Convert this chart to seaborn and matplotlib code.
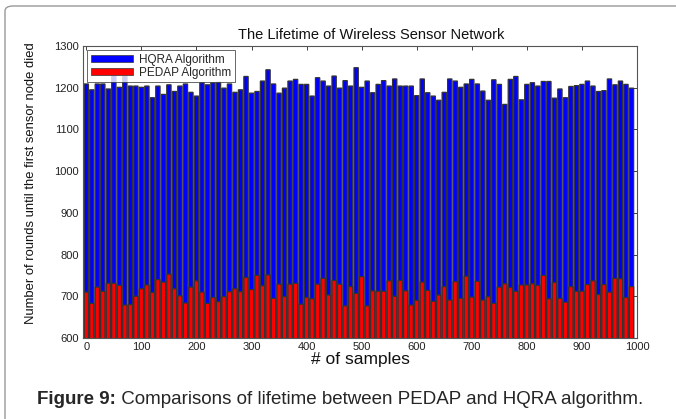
import matplotlib
matplotlib.use("Agg")
import matplotlib.pyplot as plt
from matplotlib.patches import Patch, FancyBboxPatch
import seaborn as sns
import pandas as pd
import numpy as np

# ---- data ----
samples = list(range(0, 1000, 10))
hqra = [1209, 1195, 1209, 1209, 1197, 1232, 1201, 1228, 1204, 1204,
        1201, 1204, 1176, 1204, 1184, 1207, 1191, 1204, 1209, 1189,
        1180, 1212, 1207, 1212, 1213, 1199, 1209, 1189, 1195, 1227,
        1187, 1191, 1216, 1243, 1209, 1187, 1199, 1216, 1220, 1208,
        1208, 1180, 1224, 1216, 1204, 1228, 1199, 1217, 1204, 1248,
        1201, 1216, 1188, 1208, 1217, 1204, 1221, 1204, 1204, 1204,
        1181, 1221, 1188, 1180, 1170, 1189, 1221, 1216, 1201, 1209,
        1220, 1209, 1192, 1170, 1219, 1208, 1160, 1220, 1227, 1171,
        1208, 1212, 1204, 1215, 1215, 1175, 1197, 1176, 1203, 1205,
        1208, 1216, 1204, 1191, 1193, 1221, 1207, 1216, 1208, 1199]
pedap = [710, 683, 722, 712, 731, 731, 726, 679, 680, 700,
         718, 727, 709, 740, 734, 753, 718, 701, 684, 722,
         737, 710, 683, 697, 687, 699, 711, 718, 711, 745,
         716, 750, 725, 751, 695, 729, 699, 729, 731, 681,
         697, 694, 729, 743, 703, 738, 729, 677, 723, 707,
         747, 677, 713, 712, 712, 737, 700, 738, 713, 679,
         690, 734, 714, 688, 703, 723, 691, 735, 695, 748,
         698, 736, 691, 699, 683, 722, 730, 721, 712, 727,
         727, 730, 726, 750, 694, 733, 695, 686, 723, 712,
         712, 728, 737, 704, 728, 710, 743, 742, 697, 723]
series_names = ["HQRA Algorithm", "PEDAP Algorithm"]
title = "The Lifetime of Wireless Sensor Network"
xlabel = "# of samples"
ylabel = "Number of rounds until the first sensor node died"
caption_bold = "Figure 9:"
caption_rest = " Comparisons of lifetime between PEDAP and HQRA algorithm."

df = pd.DataFrame({"samples": samples, "hqra": hqra, "pedap": pedap})

sns.set_theme(style="white")
plt.rcParams["font.family"] = ["Liberation Sans", "DejaVu Sans"]

fig = plt.figure(figsize=(6.76, 4.19), dpi=100)
fig.patch.set_facecolor("white")
ax = fig.add_axes([83/676, 1-338/419, (637-83)/676, (338-46)/419])

blue = "#0000ff"
red = "#ff0000"
edge = "#333333"
for col, c in (("hqra", blue), ("pedap", red)):
    sns.barplot(data=df, x="samples", y=col, native_scale=True, color=c,
                saturation=1, edgecolor=edge, linewidth=0.9, width=0.78,
                errorbar=None, ax=ax, snap=False)

ax.set_xlim(-6, 1000)
ax.set_ylim(600, 1300)
ax.set_xticks(np.arange(0, 1001, 100))
ax.set_yticks(np.arange(600, 1301, 100))
ax.tick_params(direction="in", length=3, width=0.6, top=True, right=True,
               labelsize=8, pad=3, colors="#222222")
for s in ax.spines.values():
    s.set_color("#555555")
    s.set_linewidth(0.8)
ax.set_xlabel(xlabel, fontsize=12.5, labelpad=0, color="#111111")
ax.set_ylabel(ylabel, fontsize=9.4, color="#111111")
ax.yaxis.set_label_coords(-0.083, 0.53)
ax.set_title(title, fontsize=10.5, pad=5, color="#111111", x=0.52)

handles = [Patch(facecolor=blue, edgecolor=edge, linewidth=0.5),
           Patch(facecolor=red, edgecolor=edge, linewidth=0.5)]
leg = ax.legend(handles, series_names, loc="upper left", fontsize=8.5,
                frameon=True, fancybox=False, handlelength=3.6,
                handleheight=0.6, handletextpad=0.5, borderpad=0.3,
                labelspacing=0.1, borderaxespad=0.35)
leg.get_frame().set_edgecolor("#222222")
leg.get_frame().set_linewidth(0.6)

# outer frame
frame = FancyBboxPatch((5/676, -0.05), 1.1, 1-6/419+0.05,
                       boxstyle="round,pad=0,rounding_size=0.012",
                       transform=fig.transFigure, facecolor="none",
                       edgecolor="#999999", linewidth=1.0, clip_on=False)
fig.patches.append(frame)

# caption
fig.canvas.draw()
r = fig.canvas.get_renderer()
cap_size = 13.5
t1 = fig.text(0, 0, caption_bold, fontsize=cap_size, weight="bold")
t2 = fig.text(0, 0, caption_rest, fontsize=cap_size)
w1 = t1.get_window_extent(r).width
w2 = t2.get_window_extent(r).width
total = w1 + w2
x0 = (676 - total) / 2 + 2
ycap = 1 - 404/419
t1.set_position((x0/676, ycap))
t2.set_position(((x0 + w1)/676, ycap))

fig.savefig("out.png", dpi=100)
